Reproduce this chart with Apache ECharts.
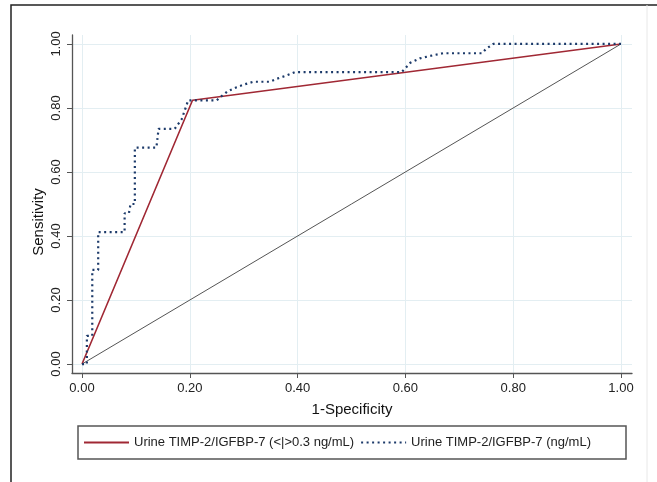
<!DOCTYPE html>
<html>
<head>
<meta charset="utf-8">
<script src="https://cdn.jsdelivr.net/npm/echarts@6/dist/echarts.min.js"></script>
<style>
  html, body { margin: 0; padding: 0; background: #fff; }
  #chart { width: 657px; height: 482px; }
</style>
</head>
<body>
<div id="chart"></div>
<script>
// tick values on both axes
const xTicks = [0, 0.2, 0.4, 0.6, 0.8, 1];
const yTicks = [0, 0.2, 0.4, 0.6, 0.8, 1];

// series names
const nameCut = 'Urine TIMP-2/IGFBP-7 (<|>0.3 ng/mL)';
const nameCont = 'Urine TIMP-2/IGFBP-7 (ng/mL)';

// cutoff ROC (single threshold)
const cutFpr = [0, 0.205, 1];
const cutTpr = [0, 0.824, 1];

// reference diagonal
const refFpr = [0, 1];
const refTpr = [0, 1];

// continuous ROC
const contFpr = [0, 0.009, 0.009, 0.019, 0.019, 0.030, 0.030, 0.079, 0.079, 0.087, 0.090, 0.098, 0.098,
  0.138, 0.142, 0.172, 0.185, 0.197, 0.250, 0.256, 0.271, 0.287, 0.302, 0.318, 0.349, 0.361, 0.377,
  0.395, 0.593, 0.609, 0.627, 0.652, 0.670, 0.742, 0.750, 0.763, 1.0];
const contTpr = [0, 0, 0.088, 0.088, 0.294, 0.294, 0.412, 0.412, 0.471, 0.471, 0.500, 0.500, 0.676,
  0.676, 0.735, 0.735, 0.765, 0.824, 0.824, 0.833, 0.853, 0.865, 0.874, 0.882, 0.882, 0.891, 0.900,
  0.912, 0.912, 0.941, 0.955, 0.965, 0.971, 0.971, 0.985, 1.0, 1.0];

const zip = (a, b) => a.map((v, i) => [v, b[i]]);
const fmt = v => v.toFixed(2);
const font = 'Liberation Sans, Arial, sans-serif';

var chart = echarts.init(document.getElementById('chart'));

chart.setOption({
    animation: false,
    backgroundColor: '#fff',
    grid: { left: 72, right: 25, top: 35, bottom: 109 },
    xAxis: {
        type: 'value',
        min: -0.0186,
        max: 1.0204,
        name: '1-Specificity',
        nameLocation: 'middle',
        nameGap: 29,
        nameMoveOverlap: false,
        nameTextStyle: { fontSize: 15, color: '#111', fontFamily: font },
        axisLine: { onZero: false, lineStyle: { color: '#555', width: 1.3 } },
        axisTick: { length: 5, lineStyle: { color: '#555' }, customValues: xTicks },
        axisLabel: { margin: 9, fontSize: 13, color: '#222', fontFamily: font, customValues: xTicks, formatter: fmt },
        splitLine: { show: true, lineStyle: { color: '#e3eef2', width: 1 } }
    },
    yAxis: {
        type: 'value',
        min: -0.028,
        max: 1.028,
        name: 'Sensitivity',
        nameLocation: 'middle',
        nameGap: 26,
        nameMoveOverlap: false,
        nameTextStyle: { fontSize: 15, color: '#111', fontFamily: font, padding: [0, 36, 0, 0] },
        axisLine: { show: true, onZero: false, lineStyle: { color: '#555', width: 1.3 } },
        axisTick: { show: true, length: 5, lineStyle: { color: '#555' }, customValues: yTicks },
        axisLabel: { margin: 9, rotate: 90, fontSize: 13, color: '#222', fontFamily: font, customValues: yTicks, formatter: fmt },
        splitLine: { show: true, lineStyle: { color: '#e3eef2', width: 1 } }
    },
    legend: {
        data: [nameCut, nameCont],
        left: 83,
        top: 436,
        padding: 0,
        itemWidth: 45,
        itemHeight: 12,
        itemGap: 6,
        itemStyle: { opacity: 0 },
        textStyle: { fontSize: 13, color: '#222', fontFamily: font }
    },
    graphic: [
        { type: 'rect', silent: true, z: -1, shape: { x: 11, y: 5, width: 700, height: 600 },
          style: { fill: 'none', stroke: '#222', lineWidth: 1.5 } },
        { type: 'line', silent: true, z: -1, shape: { x1: 647, y1: 5, x2: 647, y2: 482 },
          style: { stroke: '#e8e8e8', lineWidth: 1 } },
        { type: 'rect', silent: true, z: -1, shape: { x: 78, y: 426, width: 548, height: 33 },
          style: { fill: 'none', stroke: '#555', lineWidth: 1.5 } }
    ],
    series: [
        {
            name: 'ref',
            type: 'line',
            data: zip(refFpr, refTpr),
            symbol: 'none',
            lineStyle: { color: '#555', width: 1 },
            z: 1
        },
        {
            name: nameCut,
            type: 'line',
            data: zip(cutFpr, cutTpr),
            symbol: 'none',
            itemStyle: { color: '#a02834' },
            lineStyle: { color: '#a02834', width: 1.6 },
            z: 2
        },
        {
            name: nameCont,
            type: 'line',
            data: zip(contFpr, contTpr),
            symbol: 'none',
            itemStyle: { color: '#1c3a6a' },
            lineStyle: { color: '#1c3a6a', width: 2.2, type: [2, 3.5] },
            z: 3
        }
    ]
});
</script>
</body>
</html>
